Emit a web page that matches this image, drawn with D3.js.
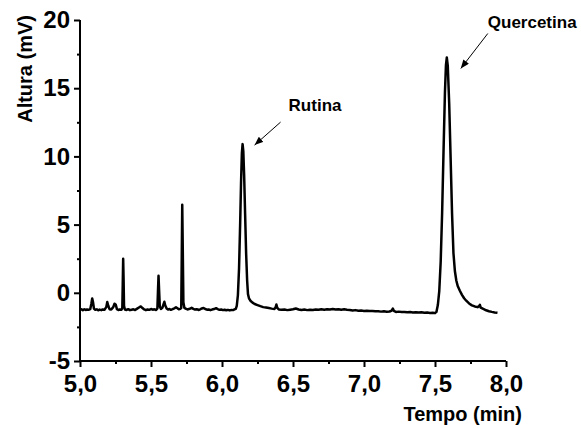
<!DOCTYPE html>
<html>
<head>
<meta charset="utf-8">
<script src="https://cdn.jsdelivr.net/npm/d3@7"></script>
<style>
  body { margin: 0; background: #fff; }
  svg { display: block; font-family: "Liberation Sans", Arial, sans-serif; }
</style>
</head>
<body>
<svg id="chart" width="581" height="428"></svg>
<script>
// cromatograma: [tempo (min), altura (mV)]
const cromatograma = [
  [5.000,-1.24],[5.010,-1.20],[5.020,-1.27],[5.030,-1.21],[5.040,-1.26],[5.050,-1.22],[5.060,-1.25],
  [5.072,-1.20],[5.080,-0.80],[5.086,-0.42],[5.092,-0.70],[5.098,-1.15],[5.108,-1.25],[5.118,-1.21],
  [5.128,-1.28],[5.138,-1.23],[5.150,-1.27],[5.160,-1.22],[5.172,-1.24],[5.185,-1.05],[5.192,-0.68],
  [5.199,-0.95],[5.208,-1.20],[5.220,-1.23],[5.234,-1.05],[5.243,-0.80],[5.252,-0.88],[5.260,-1.20],
  [5.270,-1.26],[5.280,-1.22],[5.292,-1.25],[5.298,-1.10],[5.301,0.60],[5.304,2.50],[5.307,1.00],
  [5.310,-0.95],[5.316,-1.22],[5.328,-1.26],[5.340,-1.20],[5.352,-1.27],[5.364,-1.24],[5.376,-1.21],
  [5.388,-1.26],[5.400,-1.18],[5.415,-1.08],[5.428,-1.00],[5.440,-1.12],[5.452,-1.22],[5.464,-1.27],
  [5.476,-1.22],[5.488,-1.25],[5.500,-1.19],[5.512,-1.24],[5.524,-1.21],[5.536,-1.26],[5.545,-1.15],
  [5.549,0.10],[5.553,1.25],[5.557,0.20],[5.562,-1.00],[5.570,-1.18],[5.580,-1.10],[5.588,-0.85],
  [5.594,-0.66],[5.600,-0.92],[5.610,-1.15],[5.620,-1.23],[5.630,-1.19],[5.640,-1.25],[5.652,-1.20],
  [5.664,-1.14],[5.676,-1.06],[5.686,-1.13],[5.696,-1.21],[5.706,-1.18],[5.713,-1.12],[5.716,2.00],
  [5.720,6.45],[5.724,3.00],[5.728,-0.70],[5.735,-1.10],[5.748,-1.18],[5.760,-1.22],[5.772,-1.17],
  [5.786,-1.10],[5.798,-1.18],[5.810,-1.23],[5.822,-1.20],[5.834,-1.26],[5.846,-1.21],[5.858,-1.15],
  [5.870,-1.11],[5.882,-1.19],[5.894,-1.24],[5.906,-1.22],[5.918,-1.27],[5.930,-1.23],[5.944,-1.19],
  [5.958,-1.13],[5.970,-1.20],[5.982,-1.25],[5.994,-1.22],[6.006,-1.27],[6.018,-1.24],[6.030,-1.28],
  [6.042,-1.25],[6.054,-1.29],[6.066,-1.26],[6.078,-1.27],[6.088,-1.22],[6.097,-1.18],[6.104,-0.96],
  [6.112,-0.17],[6.120,1.78],[6.128,5.14],[6.134,8.03],[6.140,10.24],[6.145,10.90],[6.150,10.39],
  [6.156,8.60],[6.163,5.69],[6.170,2.87],[6.177,0.90],[6.183,-0.10],[6.190,-0.40],[6.200,-0.58],
  [6.215,-0.72],[6.230,-0.82],[6.250,-0.90],[6.270,-0.98],[6.290,-1.05],[6.310,-1.08],[6.330,-1.12],
  [6.350,-1.16],[6.370,-1.18],[6.378,-1.05],[6.383,-0.86],[6.389,-1.10],[6.400,-1.22],[6.420,-1.25],
  [6.440,-1.22],[6.460,-1.27],[6.480,-1.24],[6.500,-1.21],[6.520,-1.15],[6.540,-1.22],[6.560,-1.26],
  [6.580,-1.23],[6.600,-1.27],[6.620,-1.24],[6.640,-1.26],[6.660,-1.22],[6.680,-1.25],[6.700,-1.21],
  [6.720,-1.24],[6.740,-1.20],[6.760,-1.23],[6.780,-1.19],[6.800,-1.22],[6.820,-1.20],[6.840,-1.24],
  [6.860,-1.21],[6.880,-1.25],[6.900,-1.26],[6.920,-1.29],[6.940,-1.27],[6.960,-1.31],[6.980,-1.30],
  [7.000,-1.33],[7.020,-1.31],[7.040,-1.34],[7.060,-1.33],[7.080,-1.36],[7.100,-1.35],[7.120,-1.38],
  [7.140,-1.36],[7.160,-1.39],[7.180,-1.37],[7.195,-1.30],[7.203,-1.15],[7.210,-1.32],[7.225,-1.40],
  [7.245,-1.38],[7.265,-1.41],[7.285,-1.40],[7.305,-1.43],[7.325,-1.41],[7.345,-1.44],[7.365,-1.42],
  [7.385,-1.45],[7.405,-1.43],[7.425,-1.46],[7.445,-1.45],[7.465,-1.48],[7.485,-1.47],[7.500,-1.49],
  [7.510,-1.40],[7.520,-0.90],[7.530,0.13],[7.540,2.26],[7.550,5.79],[7.560,10.35],[7.570,14.68],
  [7.577,16.67],[7.583,17.25],[7.590,16.63],[7.600,13.88],[7.610,9.88],[7.620,5.83],[7.630,2.90],
  [7.640,1.60],[7.650,0.90],[7.660,0.50],[7.675,0.15],[7.690,-0.15],[7.705,-0.40],[7.720,-0.58],
  [7.740,-0.78],[7.760,-0.92],[7.780,-1.00],[7.800,-1.05],[7.810,-0.98],[7.816,-0.88],[7.822,-1.08],
  [7.840,-1.18],[7.860,-1.28],[7.880,-1.35],[7.900,-1.40],[7.920,-1.44],[7.940,-1.47]
];

const xTicks = [5.0, 5.5, 6.0, 6.5, 7.0, 7.5, 8.0];
const xMinor = [5.25, 5.75, 6.25, 6.75, 7.25, 7.75];
const yTicks = [-5, 0, 5, 10, 15, 20];
const yMinor = [-2.5, 2.5, 7.5, 12.5, 17.5];

// picos identificados
const picos = [
  { nome: 'Rutina', tempo: 6.145, altura: 10.90 },
  { nome: 'Quercetina', tempo: 7.583, altura: 17.25 }
];

const xLabel = 'Tempo (min)';
const yLabel = 'Altura (mV)';

const svg = d3.select('#chart');
const margin = { left: 80, right: 75, top: 20, bottom: 67 };
const width = 581, height = 428;

const xScale = d3.scaleLinear()
  .domain([5, 8])
  .range([margin.left, width - margin.right]);

const yScale = d3.scaleLinear()
  .domain([-5, 20])
  .range([height - margin.bottom, margin.top]);

const fmtX = d => d3.format('.1f')(d).replace('.', ',');
const fmtY = d => String(d);   // plain hyphen for negatives

// x axis
const xAxisG = svg.append('g')
  .attr('class', 'x-axis')
  .attr('transform', `translate(0, ${yScale(-5)})`)
  .call(d3.axisBottom(xScale).tickValues(xTicks).tickSize(6).tickPadding(8).tickFormat(fmtX));

svg.append('g')
  .attr('class', 'x-minor')
  .attr('transform', `translate(0, ${yScale(-5)})`)
  .call(d3.axisBottom(xScale).tickValues(xMinor).tickSize(3).tickFormat(''))
  .select('.domain').remove();

// y axis
const yAxisG = svg.append('g')
  .attr('class', 'y-axis')
  .attr('transform', `translate(${xScale(5)}, 0)`)
  .call(d3.axisLeft(yScale).tickValues(yTicks).tickSize(6).tickPadding(4).tickFormat(fmtY));

svg.append('g')
  .attr('class', 'y-minor')
  .attr('transform', `translate(${xScale(5)}, 0)`)
  .call(d3.axisLeft(yScale).tickValues(yMinor).tickSize(3).tickFormat(''))
  .select('.domain').remove();

svg.selectAll('.x-axis, .y-axis, .x-minor, .y-minor')
  .selectAll('path, line')
    .attr('stroke', '#000')
    .attr('stroke-width', 2);

svg.selectAll('.x-axis .domain, .y-axis .domain')
  .attr('d', function() {
    return d3.select(this.parentNode).classed('x-axis')
      ? `M${xScale(5)},0H${xScale(8)}`
      : `M0,${yScale(20)}V${yScale(-5)}`;
  });

svg.selectAll('.x-axis text, .y-axis text')
  .attr('fill', '#000')
  .attr('font-size', 24)
  .attr('font-weight', 'bold')
  .attr('font-family', '"Liberation Sans", Arial, sans-serif');

// axis titles
svg.append('text')
  .attr('x', 522)
  .attr('y', 421)
  .attr('text-anchor', 'end')
  .attr('font-size', 20)
  .attr('font-weight', 'bold')
  .text(xLabel);

svg.append('text')
  .attr('transform', 'translate(32, 15) rotate(-90)')
  .attr('text-anchor', 'end')
  .attr('font-size', 20)
  .attr('font-weight', 'bold')
  .text(yLabel);

// signal
const line = d3.line()
  .x(d => xScale(d[0]))
  .y(d => yScale(d[1]))
  .curve(d3.curveLinear);

svg.append('path')
  .datum(cromatograma)
  .attr('class', 'line-path')
  .attr('fill', 'none')
  .attr('stroke', '#000')
  .attr('stroke-width', 2.5)
  .attr('stroke-linejoin', 'round')
  .attr('d', line);

// annotations
svg.append('defs').append('marker')
  .attr('id', 'seta')
  .attr('viewBox', '0 0 10 8')
  .attr('refX', 10)
  .attr('refY', 4)
  .attr('markerWidth', 9)
  .attr('markerHeight', 7)
  .attr('markerUnits', 'userSpaceOnUse')
  .attr('orient', 'auto')
  .append('path')
    .attr('d', 'M0,0L10,4L0,8Z')
    .attr('fill', '#000');

// offsets of arrow tip, arrow tail and label from the peak top
const notaLayout = {
  Rutina:     { tip: [12, 1],  tail: [38, -22], text: [46, -33] },
  Quercetina: { tip: [14, 11], tail: [41, -24], text: [41, -30] }
};

const notas = svg.selectAll('.nota').data(picos).enter()
  .append('g')
    .attr('class', 'nota')
    .attr('transform', d => `translate(${xScale(d.tempo)}, ${yScale(d.altura)})`);

notas.append('line')
  .attr('x1', d => notaLayout[d.nome].tail[0])
  .attr('y1', d => notaLayout[d.nome].tail[1])
  .attr('x2', d => notaLayout[d.nome].tip[0])
  .attr('y2', d => notaLayout[d.nome].tip[1])
  .attr('stroke', '#000')
  .attr('stroke-width', 1)
  .attr('marker-end', 'url(#seta)');

notas.append('text')
  .attr('x', d => notaLayout[d.nome].text[0])
  .attr('y', d => notaLayout[d.nome].text[1])
  .attr('font-size', 17)
  .attr('font-weight', 'bold')
  .text(d => d.nome);
</script>
</body>
</html>
